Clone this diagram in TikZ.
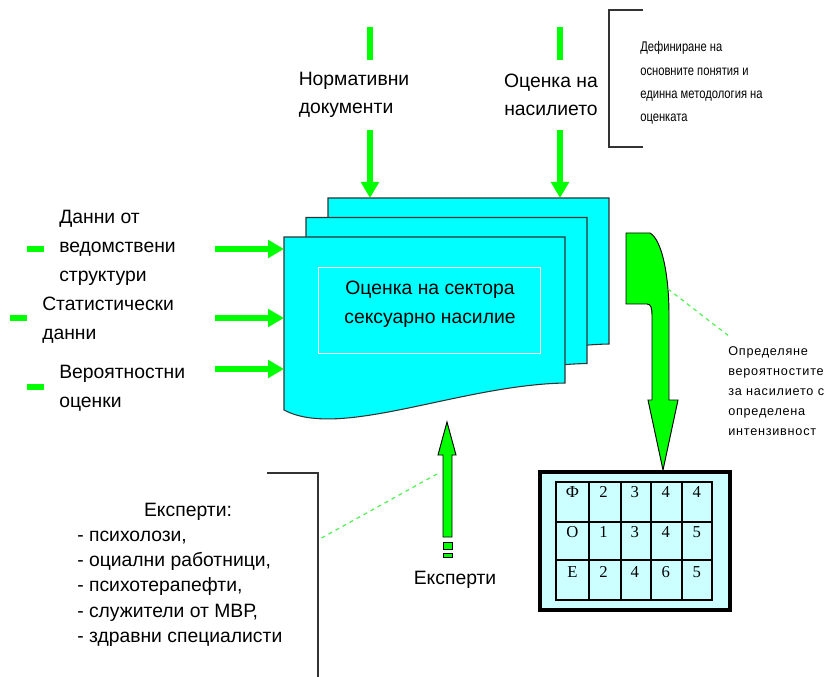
\documentclass[tikz,border=0pt]{standalone}
\usepackage{fontspec}
\setmainfont{Liberation Sans}
\newfontfamily\cellfont{Liberation Serif}
\newfontfamily\notefont[LetterSpace=6]{Liberation Sans}
\newfontfamily\narrowfont[FakeStretch=0.8]{Liberation Sans}
\usetikzlibrary{arrows.meta,positioning}

\definecolor{arrowgreen}{RGB}{0,255,0}
\definecolor{pagecyan}{RGB}{0,255,255}
\definecolor{tablecyan}{RGB}{204,255,255}
\definecolor{hintgreen}{RGB}{80,240,80}

\tikzset{
    feed/.style={arrowgreen, line width=5pt, -{Triangle[width=13pt,length=12pt]}},
    stub/.style={arrowgreen, line width=5pt},
    page/.style={fill=pagecyan, draw=black!80, line width=0.8pt},
    blockarrow/.style={fill=arrowgreen, draw=black, line width=0.7pt},
    label/.style={font=\fontsize{14.5}{21.5}\selectfont, align=left, inner sep=0pt},
    note/.style={font=\narrowfont\fontsize{10.5}{17.5}\selectfont, align=left, inner sep=0pt},
    hint/.style={hintgreen, dashed, line width=0.9pt},
    bracket/.style={black!80, line width=0.8pt},
    cell/.style={font=\cellfont\fontsize{12.5}{13}\selectfont, inner sep=0pt},
}

\begin{document}
\begin{tikzpicture}[x=0.75pt, y=-0.75pt]
    \fill[white] (0,0) rectangle (825,677);
    \useasboundingbox (0,0) rectangle (825,677);

    %% stacked pages, back to front
    \foreach \s in {2,1,0}
        \draw[page, shift={({22*\s},{-19.5*\s})}]
            (284,237) -- (565,237) -- (565,383)
            .. controls (460,385) and (340,440) .. (284,410) -- cycle;
    \node[draw=white, line width=0.6pt, minimum width=167pt,
        minimum height=64.5pt] (frame) at (429.5,310) {};
    \node[label, align=center] (sector) at (430,304)
        {Оценка на сектора\\сексуарно насилие};

    %% inputs from above
    \node[label] (norm) at (354,95) {Нормативни\\документи};
    \node[label, align=center] (viol) at (551,95) {Оценка на\\насилието};
    \foreach \x/\n in {370/norm,560/viol} {
        \coordinate (\n-top) at (\x,27);
        \coordinate (\n-out) at (\x,130);
        \coordinate (\n-in) at (\x,198);
        \draw[stub] (\n-top) -- ++(0,33);
        \draw[feed] (\n-out) -- (\n-in);
    }
    \draw[bracket] (643,10) -- (609,10) -- (609,147) -- (643,147);
    \node[note, anchor=west] (define) at (640,83)
        {Дефиниране на\\основните понятия и\\единна методология на\\оценката};

    %% inputs from the left
    \node[label, anchor=west] (dept) at (59,248) {Данни от\\ведомствени\\структури};
    \node[label, anchor=west] (stat) at (42,320) {Статистически\\данни};
    \node[label, anchor=west] (probtxt) at (59,388) {Вероятностни\\оценки};
    \foreach \y/\n in {249/dept,318/stat,369/prob} {
        \coordinate (\n-out) at (215,\y);
        \coordinate (\n-in) at (284,\y);
        \draw[feed] (\n-out) -- (\n-in);
    }
    \foreach \x/\y in {27/249,10/318,27/387}
        \draw[stub] (\x,\y) -- ++(17,0);

    %% output arrow and table
    \draw[blockarrow]
        (626,233) -- (650,233) .. controls (662,240) and (669,275) .. (669,315)
        -- (669,400) -- (678,400) -- (663,470) -- (648,400) -- (652,400)
        -- (652,316) .. controls (652,308) and (651,304) .. (647,304)
        -- (626,304) -- cycle;
    \coordinate (bend-side) at (668,289);
    \node[font=\notefont\fontsize{9.5}{15}\selectfont, align=left, inner sep=0pt,
        anchor=north west] (likely) at (728,346)
        {Определяне\\вероятностите\\за насилието с\\определена\\интензивност};
    \draw[hint] (bend-side) -- ([yshift=8pt]likely.north west);

    \node[draw=black, line width=2.4pt, fill=tablecyan, minimum width=142.5pt,
        minimum height=103.5pt] (tbl) at (635,541) {};
    \draw[line width=0.8pt] (556,482) rectangle (712,600);
    \foreach \x in {589,621,651,682}
        \draw[line width=0.8pt] (\x,482) -- (\x,600);
    \foreach \y in {522,560}
        \draw[line width=0.8pt] (556,\y) -- (712,\y);
    \foreach \vals [count=\r] in {{Ф,2,3,4,4},{О,1,3,4,5},{Е,2,4,6,5}}
        \foreach \v [count=\c] in \vals
            \node[cell] (c-\r-\c) at ({541.4+31.1*\c},{452+40*\r}) {\v};

    %% experts from below
    \draw[blockarrow] (443,537) -- (443,455) -- (438,455) -- (447,422)
        -- (456,455) -- (452,455) -- (452,537) -- cycle;
    \draw[blockarrow] (443,542) rectangle (452,549);
    \draw[blockarrow] (443,553) rectangle (452,557);
    \node[label] (experts) at (455,580) {Експерти};
    \coordinate (up-side) at (437,474);
    \coordinate (brk-side) at (318,540);
    \draw[hint] (up-side) -- (brk-side);
    \draw[bracket] (267,473) -- (318,473) -- (318,680);
    \node[label] (panel) at (188,512) {Експерти:};
    \node[label, anchor=west, font=\fontsize{14.5}{19}\selectfont] (roles) at (77,588.5)
        {- психолози,\\- оциални работници,\\- психотерапефти,\\- служители от МВР,\\- здравни специалисти};
\end{tikzpicture}
\end{document}
